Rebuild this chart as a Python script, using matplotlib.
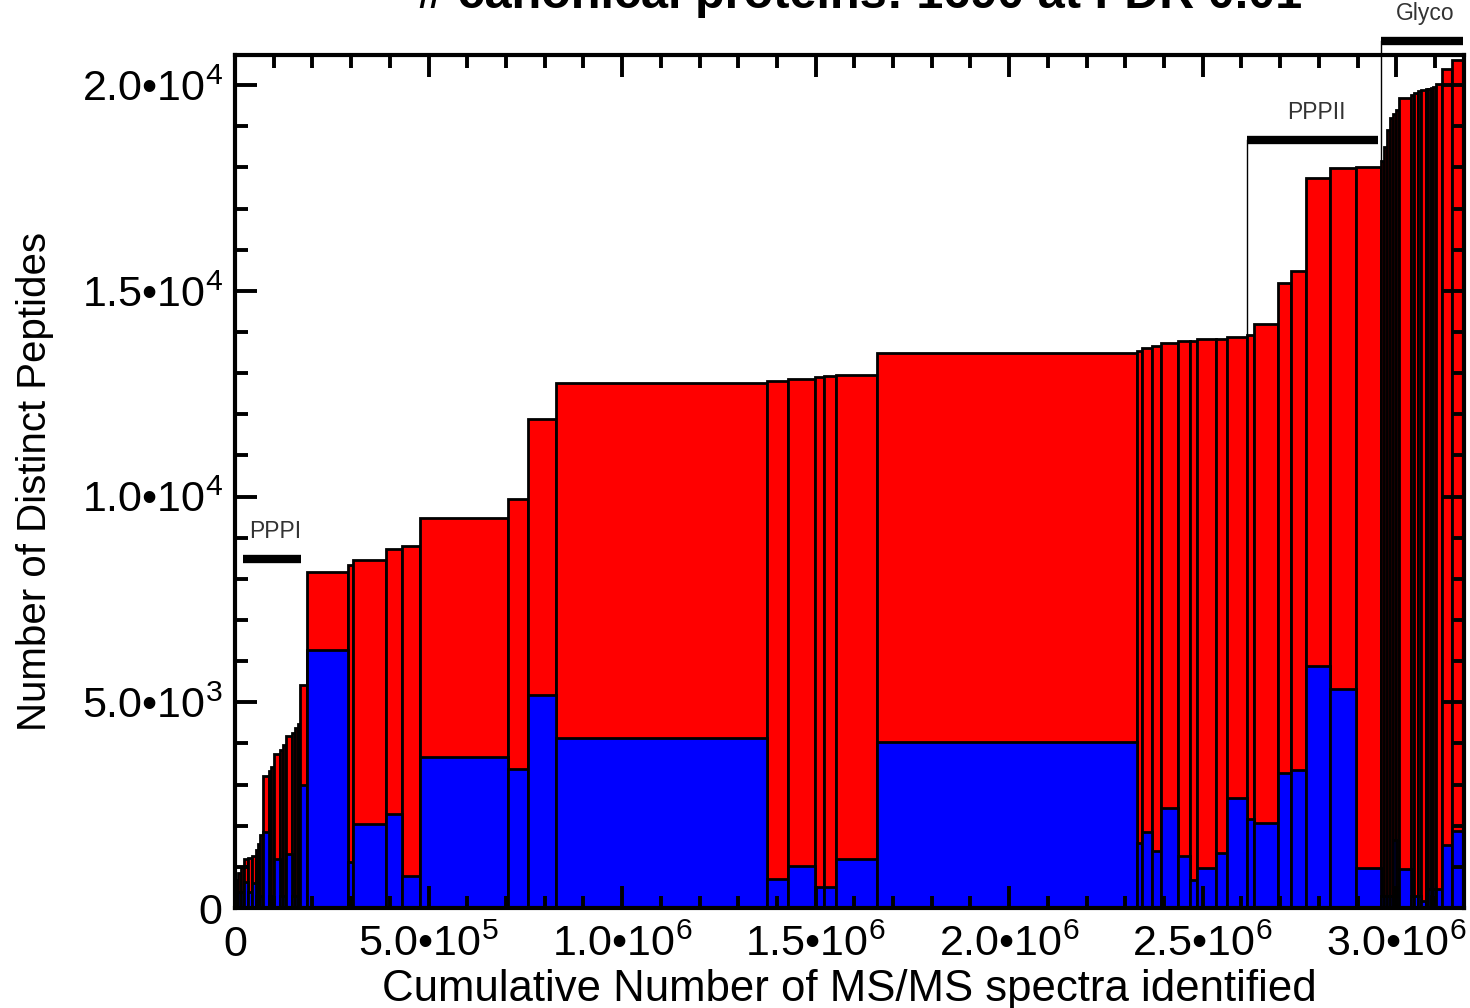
import matplotlib
matplotlib.use('Agg')
import matplotlib.pyplot as plt
from matplotlib.ticker import MultipleLocator
import numpy as np

plt.rcParams['font.family'] = ['Liberation Sans', 'DejaVu Sans']
plt.rcParams['mathtext.fontset'] = 'custom'
plt.rcParams['mathtext.rm'] = 'Liberation Sans'
plt.rcParams['mathtext.it'] = 'Liberation Sans'

# cumulative number of MS/MS spectra at the end of each experiment
spectra_end = [7800, 15500, 23300, 33600, 43900, 54300, 59400, 64600, 72400, 87900,
               93000, 100800, 116300, 124000, 131800, 147300, 155000, 162800, 168000, 186000,
               292000, 304900, 390200, 431500, 478000, 705400, 757100, 829500, 1374700, 1429000,
               1498700, 1522000, 1553000, 1659000, 2330800, 2343700, 2369500, 2392800, 2436700, 2467700,
               2485800, 2534900, 2563300, 2615000, 2633000, 2695000, 2728700, 2767400, 2829500, 2896700,
               2961300, 2969000, 2976800, 2984500, 2992300, 3000000, 3007800, 3038800, 3046500, 3056900,
               3064600, 3077500, 3082700, 3090500, 3095600, 3103400, 3118900, 3144700, 3173150]

# cumulative number of distinct peptides after each experiment (red)
peptides_total = [680, 850, 1000, 1180, 1220, 1270, 1400, 1550, 1770, 3220,
                  3320, 3420, 3740, 3850, 3960, 4170, 4260, 4370, 4470, 5410,
                  8160, 8330, 8450, 8720, 8790, 9490, 9940, 11890, 12770, 12800,
                  12860, 12910, 12940, 12950, 13500, 13540, 13620, 13650, 13730, 13780,
                  13790, 13820, 13830, 13870, 13930, 14200, 15200, 15490, 17740, 17990,
                  18010, 18150, 18500, 18900, 19200, 19300, 19400, 19680, 19750, 19800,
                  19850, 19880, 19900, 19910, 19930, 19950, 20020, 20390, 20600]

# distinct peptides seen in each experiment alone (blue)
peptides_sample = [300, 400, 400, 620, 400, 600, 300, 300, 300, 1850,
                   300, 300, 1180, 300, 300, 1320, 300, 300, 300, 2990,
                   6260, 1130, 2040, 2280, 780, 3670, 3390, 5180, 4140, 700,
                   1020, 520, 500, 1180, 4040, 1570, 1850, 1380, 2430, 1260,
                   680, 980, 1330, 2680, 2170, 2070, 3270, 3360, 5880, 5330,
                   970, 300, 300, 300, 300, 1660, 300, 960, 300, 300,
                   300, 170, 300, 450, 300, 450, 450, 1540, 1870]

x_ticks = [0, 5e5, 1e6, 1.5e6, 2e6, 2.5e6, 3e6]
x_labels = ['0', '5.0•10$^{5}$', '1.0•10$^{6}$', '1.5•10$^{6}$',
            '2.0•10$^{6}$', '2.5•10$^{6}$', '3.0•10$^{6}$']
y_ticks = [0, 5000, 10000, 15000, 20000]
y_labels = ['0', '5.0•10$^{3}$', '1.0•10$^{4}$', '1.5•10$^{4}$', '2.0•10$^{4}$']

# sample groups marked above the bars
group_names = ['PPPI', 'PPPII', 'Glyco']
group_start = [20700, 2615000, 2961300]
group_end = [170500, 2954000, 3173000]
group_level = [8480, 18660, 21070]
group_drop = [False, True, True]

title = '# canonical proteins: 1690 at FDR 0.01'

ends = np.array(spectra_end, dtype=float)
starts = np.concatenate([[0.0], ends[:-1]])
widths = ends - starts

fig = plt.figure(figsize=(14.7, 10.08), dpi=100)
ax = fig.add_axes([0.1599, 0.0992, 0.836, 0.8462])

ax.bar(starts, peptides_total, width=widths, align='edge', color='#ff0000',
       edgecolor='black', linewidth=2)
ax.bar(starts, peptides_sample, width=widths, align='edge', color='#0000ff',
       edgecolor='black', linewidth=2)

# group markers
for name, x0, x1, lev, drop in zip(group_names, group_start, group_end, group_level, group_drop):
    ax.plot([x0, x1], [lev, lev], color='black', lw=6, solid_capstyle='butt', clip_on=False)
    ax.text((x0 + x1) / 2 + 8000, lev + 400, name, ha='center', va='bottom', fontsize=16.5,
            color='#333333', clip_on=False)
    if drop:
        i = np.searchsorted(starts, x0, side='right') - 1
        ax.plot([x0, x0], [peptides_total[i], lev], color='black', lw=1, clip_on=False)

ax.set_xlim(0, 3.175e6)
ax.set_ylim(0, 20730)
ax.set_xticks(x_ticks)
ax.set_xticklabels(x_labels)
ax.set_yticks(y_ticks)
ax.set_yticklabels(y_labels)
ax.xaxis.set_minor_locator(MultipleLocator(1e5))
ax.yaxis.set_minor_locator(MultipleLocator(1000))

ax.tick_params(which='both', direction='in', top=True, right=True, width=2.8, labelsize=31)
ax.tick_params(which='major', length=16)
ax.tick_params(which='minor', length=9)
ax.tick_params(axis='x', pad=12)
ax.tick_params(axis='y', pad=9)
for sp in ax.spines.values():
    sp.set_linewidth(3)

ax.set_xlabel('Cumulative Number of MS/MS spectra identified', fontsize=31.5, labelpad=3)
ax.set_ylabel('Number of Distinct Peptides', fontsize=29, labelpad=20)

fig.text(0.585, 1 - 8 / 1008, title, ha='center', va='baseline', fontsize=35,
         fontweight='bold')

fig.savefig('out.png', dpi=100)
